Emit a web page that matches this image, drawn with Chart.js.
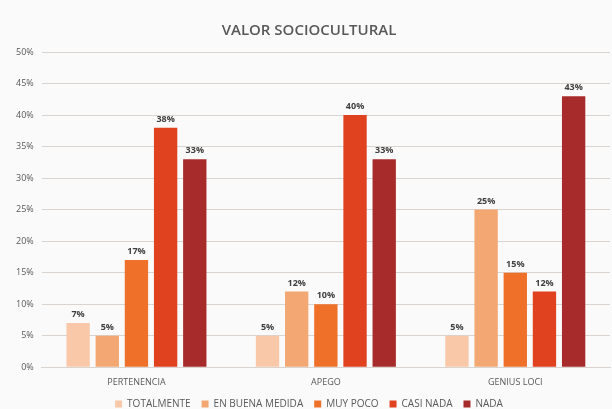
<!DOCTYPE html>
<html>
<head>
<meta charset="utf-8">
<script src="https://cdn.jsdelivr.net/npm/chart.js@4/dist/chart.umd.min.js"></script>
<style>
    html, body { margin: 0; padding: 0; background: #fafafa; }
    #wrap { width: 612px; height: 409px; }
</style>
</head>
<body>
<div id="wrap"><canvas id="socioChart"></canvas></div>
<script>
// Data
const categories = ['PERTENENCIA', 'APEGO', 'GENIUS LOCI'];
const seriesNames = ['TOTALMENTE', 'EN BUENA MEDIDA', 'MUY POCO', 'CASI NADA', 'NADA'];
const totalmente = [7, 5, 5];
const enBuenaMedida = [5, 12, 25];
const muyPoco = [17, 10, 15];
const casiNada = [38, 40, 12];
const nada = [33, 33, 43];

const colors = ['#f8c8a8', '#f3a873', '#ee7029', '#e0411f', '#a82b2b'];
const seriesValues = [totalmente, enBuenaMedida, muyPoco, casiNada, nada];

Chart.defaults.font.family = "'Open Sans', 'Noto Sans', sans-serif";
Chart.defaults.color = '#595959';

// value labels above bars
const valueLabels = {
    id: 'valueLabels',
    afterDatasetsDraw(chart) {
        const ctx = chart.ctx;
        ctx.save();
        ctx.font = "bold 9px 'Open Sans', sans-serif";
        ctx.fillStyle = '#404040';
        ctx.textAlign = 'center';
        ctx.textBaseline = 'bottom';
        chart.data.datasets.forEach((ds, i) => {
            chart.getDatasetMeta(i).data.forEach((bar, j) => {
                ctx.fillText(ds.data[j] + '%', bar.x, bar.y - 4);
            });
        });
        ctx.restore();
    }
};

new Chart(document.getElementById('socioChart'), {
    type: 'bar',
    data: {
        labels: categories,
        datasets: seriesNames.map((name, i) => ({
            label: name,
            data: seriesValues[i],
            backgroundColor: colors[i],
            barPercentage: 0.8,
            categoryPercentage: 0.77
        }))
    },
    options: {
        responsive: true,
        maintainAspectRatio: false,
        animation: false,
        layout: { padding: { left: 8, right: 2, top: 0, bottom: -10 } },
        plugins: {
            title: {
                display: true,
                text: 'VALOR SOCIOCULTURAL',
                color: '#595959',
                font: { size: 15, weight: '600' },
                padding: { top: 22, bottom: 12 }
            },
            legend: {
                position: 'bottom',
                labels: {
                    boxWidth: 7,
                    boxHeight: 7,
                    padding: 11,
                    font: { size: 10 },
                    color: '#595959'
                }
            },
            tooltip: { enabled: false }
        },
        scales: {
            x: {
                grid: { display: false, drawTicks: false },
                border: { color: '#d9d4d0' },
                ticks: { font: { size: 9 }, color: '#595959', padding: 10 },
                afterFit: scale => { scale.height -= 10; }
            },
            y: {
                min: 0,
                max: 50,
                border: { display: false },
                grid: { color: '#d9d4d0', drawTicks: false },
                ticks: {
                    stepSize: 5,
                    padding: 8,
                    font: { size: 9 },
                    color: '#595959',
                    callback: v => v + '%'
                }
            }
        }
    },
    plugins: [valueLabels]
});
</script>
</body>
</html>
